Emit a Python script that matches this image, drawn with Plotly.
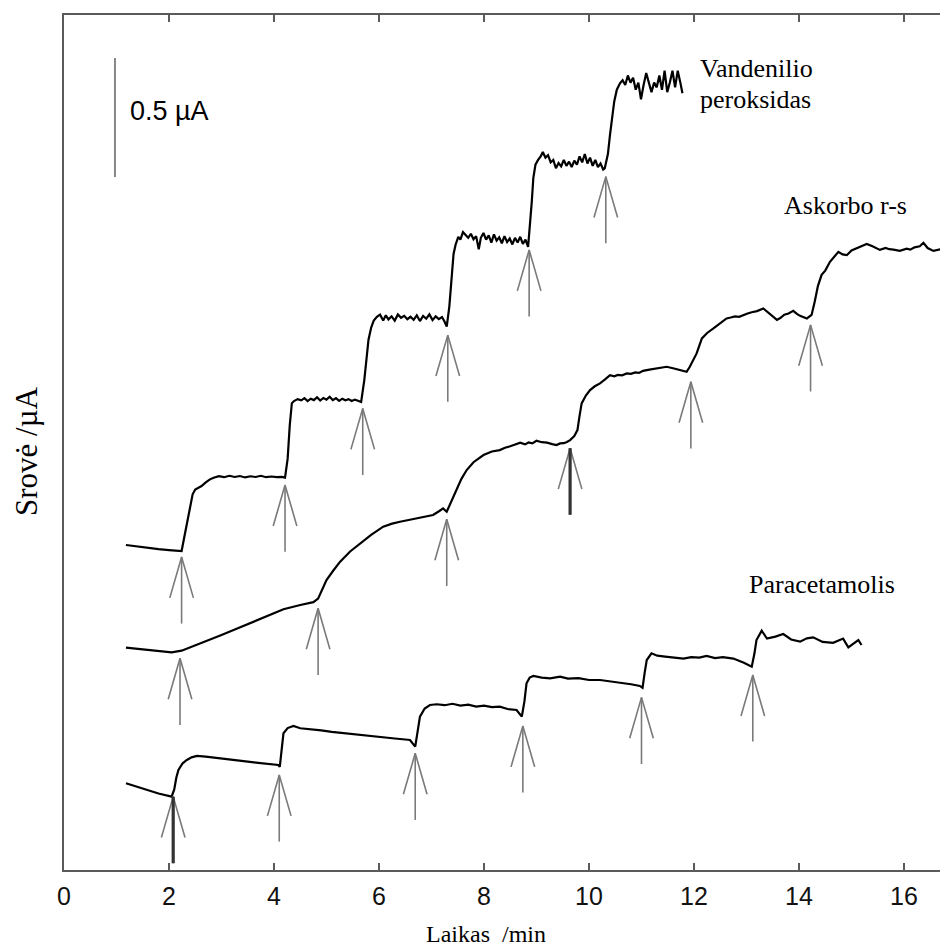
import plotly.graph_objects as go

# ---------------- data (time in min, current in uA, arbitrary offsets) ----------------
h2o2_t = [1.18, 1.40, 1.60, 1.80, 2.00, 2.24,
          2.30, 2.38, 2.45, 2.50, 2.55, 2.62, 2.70, 2.78, 2.85,
          2.95, 3.05, 3.15, 3.25, 3.35, 3.45, 3.55, 3.65, 3.75, 3.85, 3.95, 4.05, 4.15, 4.21,
          4.26, 4.30, 4.34, 4.38, 4.45,
          4.52, 4.58, 4.64, 4.70, 4.76, 4.82, 4.88, 4.94, 5.00, 5.06, 5.12, 5.18, 5.24, 5.30, 5.36, 5.42, 5.48, 5.54, 5.60, 5.66,
          5.72, 5.76, 5.80, 5.85, 5.90, 5.96,
          6.02, 6.08, 6.13, 6.18, 6.24, 6.30, 6.36, 6.42, 6.48, 6.54, 6.60, 6.66, 6.72, 6.78, 6.84, 6.90, 6.96, 7.02, 7.08, 7.14, 7.20, 7.25, 7.29,
          7.34, 7.38, 7.42, 7.46, 7.51, 7.55, 7.60,
          7.65, 7.70, 7.75, 7.80, 7.85, 7.90, 7.94, 7.99, 8.04, 8.09, 8.14, 8.19, 8.24, 8.29, 8.34, 8.39, 8.44, 8.49, 8.54, 8.59, 8.64, 8.69, 8.74, 8.79, 8.84,
          8.88, 8.91, 8.94, 8.98, 9.03,
          9.08, 9.12, 9.17, 9.22, 9.27, 9.32, 9.37, 9.42, 9.47, 9.52, 9.57, 9.62, 9.67, 9.72, 9.77, 9.82, 9.87, 9.92, 9.97, 10.02, 10.07, 10.12, 10.17, 10.22, 10.27, 10.30,
          10.36, 10.40, 10.44, 10.48, 10.53, 10.59,
          10.64, 10.69, 10.74, 10.79, 10.84, 10.89, 10.94, 10.99, 11.04, 11.09, 11.14, 11.19, 11.24, 11.29, 11.34, 11.39, 11.44, 11.49, 11.54, 11.59, 11.64, 11.69, 11.74, 11.78]
h2o2_i = [1.357, 1.350, 1.345, 1.340, 1.336, 1.332,
          1.400, 1.500, 1.570, 1.590, 1.595, 1.605, 1.620, 1.633, 1.640,
          1.646, 1.642, 1.648, 1.643, 1.647, 1.641, 1.646, 1.643, 1.648, 1.642, 1.645, 1.642, 1.643, 1.640,
          1.720, 1.860, 1.953, 1.962, 1.970,
          1.965, 1.974, 1.962, 1.972, 1.966, 1.978, 1.964, 1.975, 1.968, 1.980, 1.966, 1.974, 1.963, 1.972, 1.965, 1.970, 1.962, 1.968, 1.963, 1.958,
          2.050, 2.150, 2.220, 2.270, 2.300, 2.316,
          2.325, 2.300, 2.322, 2.305, 2.318, 2.300, 2.326, 2.312, 2.320, 2.306, 2.316, 2.303, 2.322, 2.298, 2.320, 2.308, 2.326, 2.302, 2.318, 2.306, 2.315, 2.295, 2.275,
          2.360, 2.480, 2.580, 2.620, 2.652, 2.640, 2.672,
          2.660, 2.648, 2.665, 2.642, 2.655, 2.600, 2.648, 2.668, 2.640, 2.658, 2.628, 2.662, 2.636, 2.650, 2.625, 2.655, 2.630, 2.645, 2.620, 2.648, 2.628, 2.652, 2.622, 2.640, 2.610,
          2.700, 2.800, 2.900, 2.955, 2.975,
          2.990, 3.008, 2.985, 2.995, 2.965, 2.975, 2.940, 2.962, 2.948, 2.975, 2.950, 2.968, 2.945, 2.972, 2.955, 2.990, 2.965, 3.000, 2.960, 2.985, 2.950, 2.975, 2.945, 2.960, 2.935, 2.940,
          3.000, 3.080, 3.160, 3.220, 3.270, 3.297,
          3.310, 3.290, 3.330, 3.300, 3.320, 3.270, 3.300, 3.230, 3.290, 3.340, 3.300, 3.260, 3.300, 3.280, 3.330, 3.270, 3.350, 3.260, 3.300, 3.350, 3.280, 3.350, 3.300, 3.255]

asc_t = [1.18, 1.50, 1.80, 2.05, 2.24, 2.50, 2.78, 3.00, 3.23, 3.50, 3.86, 4.18, 4.50, 4.75, 4.84,
         4.92, 5.00, 5.13, 5.26, 5.45, 5.64, 5.85, 6.08, 6.25, 6.40, 6.60, 6.80, 7.03, 7.15, 7.22, 7.29,
         7.38, 7.48, 7.57, 7.67, 7.80, 7.99, 8.15, 8.30, 8.40, 8.50, 8.60, 8.69, 8.78, 8.85, 8.92, 9.00, 9.10, 9.20, 9.30, 9.38, 9.45, 9.52, 9.58, 9.64,
         9.72, 9.78, 9.82, 9.86, 9.94, 10.02, 10.11, 10.21, 10.30, 10.40, 10.48, 10.55, 10.63, 10.72, 10.80, 10.88, 10.95, 11.03, 11.15, 11.25, 11.36, 11.48, 11.60, 11.73, 11.80, 11.86, 11.92,
         11.99, 12.05, 12.15, 12.25, 12.37, 12.50, 12.62, 12.70, 12.78, 12.86, 12.94, 13.02, 13.10, 13.20, 13.32, 13.45, 13.58, 13.65, 13.72, 13.80, 13.89, 13.96, 14.02, 14.15, 14.24,
         14.30, 14.36, 14.43, 14.50, 14.59, 14.67, 14.75, 14.83, 14.91, 15.00, 15.10, 15.20, 15.29, 15.40, 15.47, 15.54, 15.65, 15.72, 15.80, 15.92, 16.05, 16.12, 16.20, 16.30, 16.37, 16.45, 16.56, 16.63, 16.70, 16.84]
asc_i = [0.926, 0.918, 0.910, 0.906, 0.913, 0.935, 0.958, 0.979, 1.000, 1.025, 1.056, 1.087, 1.105, 1.117, 1.132,
         1.175, 1.210, 1.250, 1.287, 1.330, 1.364, 1.400, 1.434, 1.447, 1.455, 1.463, 1.474, 1.483, 1.500, 1.511, 1.497,
         1.540, 1.588, 1.635, 1.672, 1.705, 1.735, 1.750, 1.756, 1.766, 1.772, 1.780, 1.787, 1.780, 1.788, 1.784, 1.795, 1.789, 1.787, 1.781, 1.777, 1.784, 1.785, 1.790, 1.798,
         1.815, 1.840, 1.900, 1.952, 1.985, 2.008, 2.024, 2.036, 2.052, 2.071, 2.066, 2.072, 2.070, 2.078, 2.076, 2.082, 2.080, 2.089, 2.094, 2.098, 2.102, 2.106, 2.100, 2.092, 2.090, 2.085, 2.106,
         2.135, 2.162, 2.225, 2.248, 2.267, 2.290, 2.309, 2.313, 2.318, 2.316, 2.324, 2.330, 2.335, 2.340, 2.351, 2.325, 2.303, 2.312, 2.325, 2.330, 2.341, 2.328, 2.320, 2.309, 2.324,
         2.380, 2.445, 2.492, 2.510, 2.547, 2.570, 2.589, 2.578, 2.575, 2.595, 2.605, 2.615, 2.622, 2.612, 2.603, 2.597, 2.605, 2.600, 2.598, 2.593, 2.602, 2.598, 2.608, 2.612, 2.627, 2.605, 2.593, 2.598, 2.600, 2.603]

par_t = [1.18, 1.40, 1.60, 1.80, 2.05, 2.10, 2.14, 2.18, 2.26, 2.34, 2.43, 2.53, 2.70, 2.90, 3.10, 3.30, 3.50, 3.70, 3.90, 4.08, 4.11,
         4.15, 4.18, 4.26, 4.37, 4.50, 4.70, 4.90, 5.10, 5.30, 5.50, 5.70, 5.90, 6.10, 6.30, 6.50, 6.59, 6.69,
         6.74, 6.78, 6.87, 6.97, 7.10, 7.25, 7.40, 7.55, 7.70, 7.85, 8.00, 8.15, 8.30, 8.45, 8.62, 8.72,
         8.77, 8.81, 8.87, 8.94, 9.10, 9.26, 9.45, 9.60, 9.80, 10.00, 10.21, 10.40, 10.60, 10.80, 10.97, 11.02,
         11.06, 11.10, 11.19, 11.30, 11.45, 11.60, 11.80, 11.95, 12.10, 12.24, 12.40, 12.55, 12.75, 12.95, 13.10,
         13.15, 13.19, 13.29, 13.39, 13.55, 13.70, 13.85, 14.02, 14.15, 14.27, 14.45, 14.65, 14.84, 14.94, 15.05, 15.13, 15.19]
par_i = [0.356, 0.340, 0.326, 0.313, 0.300, 0.330, 0.380, 0.412, 0.440, 0.454, 0.465, 0.471, 0.468, 0.462, 0.458, 0.452, 0.447, 0.442, 0.437, 0.433, 0.425,
         0.500, 0.566, 0.588, 0.597, 0.587, 0.584, 0.578, 0.572, 0.567, 0.561, 0.557, 0.552, 0.548, 0.544, 0.540, 0.538, 0.510,
         0.580, 0.636, 0.670, 0.685, 0.688, 0.684, 0.690, 0.682, 0.686, 0.678, 0.682, 0.676, 0.678, 0.668, 0.664, 0.636,
         0.700, 0.776, 0.800, 0.807, 0.800, 0.797, 0.804, 0.796, 0.798, 0.790, 0.790, 0.785, 0.778, 0.772, 0.765, 0.757,
         0.820, 0.874, 0.902, 0.892, 0.888, 0.884, 0.880, 0.886, 0.884, 0.891, 0.882, 0.886, 0.880, 0.862, 0.846,
         0.900, 0.958, 0.997, 0.964, 0.972, 0.983, 0.960, 0.951, 0.965, 0.969, 0.950, 0.946, 0.964, 0.927, 0.945, 0.958, 0.937]

# injection arrows: time and current at arrow tip
h2o2_arrow_t = [2.24, 4.21, 5.69, 7.31, 8.86, 10.32]
h2o2_arrow_i = [1.307, 1.609, 1.931, 2.239, 2.597, 2.905]
asc_arrow_t = [2.21, 4.84, 7.29, 9.64, 11.94, 14.22]
asc_arrow_i = [0.881, 1.091, 1.465, 1.764, 2.043, 2.282]
par_arrow_t = [2.08, 4.10, 6.69, 8.74, 11.00, 13.12]
par_arrow_i = [0.300, 0.391, 0.482, 0.597, 0.717, 0.811]

# scale bar (0.5 uA)
scale_t = 0.971
scale_i = [2.903, 3.403]

x_ticks = [0, 2, 4, 6, 8, 10, 12, 14, 16]

# ---------------- style / layout ----------------
# The page body has an 8 px margin; margins below compensate so the plot
# area sits where the reference has it, and is cut by the window at the right.
OFF = 8
FIG_W, FIG_H = 948, 947
PLOT_L, PLOT_T, PLOT_B = 64, 15, 870          # on-screen pixel positions
PX_PER_MIN = 52.5
PX_PER_UA = 238

ML = PLOT_L - OFF
MT = PLOT_T - OFF
MB = FIG_H - (PLOT_B - OFF)
PLOT_W = FIG_W - ML
PLOT_H = FIG_H - MT - MB

AXIS_COLOR = "#5a5a5a"
ARROW_COLOR = "#7a7a7a"
SHAFT = 0.28    # arrow shaft length (uA)
WING_DY = 0.172
WING_DX = 0.225
X_MAX = PLOT_W / PX_PER_MIN
Y_MIN = -2 / PX_PER_UA
Y_MAX = Y_MIN + PLOT_H / PX_PER_UA


def arrow_path(ts, tips):
    xs, ys = [], []
    for t, tip in zip(ts, tips):
        xs += [t, t, None, t - WING_DX, t, t + WING_DX, None]
        ys += [tip, tip - SHAFT, None, tip - WING_DY, tip, tip - WING_DY, None]
    return xs, ys


fig = go.Figure()

for ts, ys in [(h2o2_t, h2o2_i), (asc_t, asc_i), (par_t, par_i)]:
    fig.add_trace(go.Scatter(x=ts, y=ys, mode="lines",
                             line=dict(color="black", width=2.2),
                             hoverinfo="skip", showlegend=False))

for ts, tips in [(h2o2_arrow_t, h2o2_arrow_i), (asc_arrow_t, asc_arrow_i), (par_arrow_t, par_arrow_i)]:
    ax, ay = arrow_path(ts, tips)
    fig.add_trace(go.Scatter(x=ax, y=ay, mode="lines",
                             line=dict(color=ARROW_COLOR, width=1.6),
                             hoverinfo="skip", showlegend=False))

# darker, heavier shafts on two arrows
thick_t = [par_arrow_t[0], asc_arrow_t[3]]
thick_tip = [par_arrow_i[0], asc_arrow_i[3]]
tx, ty = [], []
for t, tip in zip(thick_t, thick_tip):
    tx += [t, t, None]
    ty += [tip, tip - SHAFT, None]
fig.add_trace(go.Scatter(x=tx, y=ty, mode="lines",
                         line=dict(color="#333333", width=3.2),
                         hoverinfo="skip", showlegend=False))

fig.add_trace(go.Scatter(x=[scale_t, scale_t], y=scale_i, mode="lines",
                         line=dict(color="#6a6a6a", width=1.6),
                         hoverinfo="skip", showlegend=False))

serif = "Liberation Serif, Times New Roman, serif"
sans = "Liberation Sans, Arial, sans-serif"

labels = [
    ("Vandenilio", 12.08, 3.361),
    ("peroksidas", 12.08, 3.227),
    ("Askorbo r-s", 13.68, 2.782),
    ("Paracetamolis", 13.01, 1.193),
]
for txt, lx, ly in labels:
    fig.add_annotation(x=lx, y=ly, text=txt, showarrow=False, xanchor="left", yanchor="middle",
                       font=dict(family=serif, size=26, color="black"))

fig.add_annotation(x=1.219, y=3.181, text="0.5 µA", showarrow=False, xanchor="left", yanchor="middle",
                   font=dict(family=sans, size=27, color="black"))

# axis titles (positions in on-screen pixels converted to paper fractions)
fig.add_annotation(xref="paper", yref="paper", x=(486 - PLOT_L) / PLOT_W, y=(PLOT_B - 934) / PLOT_H,
                   text="Laikas  /min", showarrow=False, xanchor="center", yanchor="middle",
                   font=dict(family=serif, size=24, color="black"))
fig.add_annotation(xref="paper", yref="paper", x=(26 - PLOT_L) / PLOT_W, y=(PLOT_B - 451) / PLOT_H,
                   text="Srovė /µA", showarrow=False, textangle=-90, xanchor="center", yanchor="middle",
                   font=dict(family=serif, size=31, color="black"))

fig.update_layout(
    width=FIG_W, height=FIG_H,
    margin=dict(l=ML, r=0, t=MT, b=MB, pad=0),
    paper_bgcolor="white", plot_bgcolor="white",
    showlegend=False,
    xaxis=dict(range=[0, X_MAX], tickvals=x_ticks, ticktext=[str(v) for v in x_ticks],
               ticks="inside", ticklen=7, tickwidth=1.5, tickcolor=AXIS_COLOR,
               showline=True, linecolor=AXIS_COLOR, linewidth=2, mirror="ticks",
               showgrid=False, zeroline=False, ticklabelstandoff=3,
               tickfont=dict(family=sans, size=25, color="#111111")),
    yaxis=dict(range=[Y_MIN, Y_MAX], showticklabels=False, ticks="",
               showline=True, linecolor=AXIS_COLOR, linewidth=2, mirror=False,
               showgrid=False, zeroline=False),
)

fig.write_html("out.html")
